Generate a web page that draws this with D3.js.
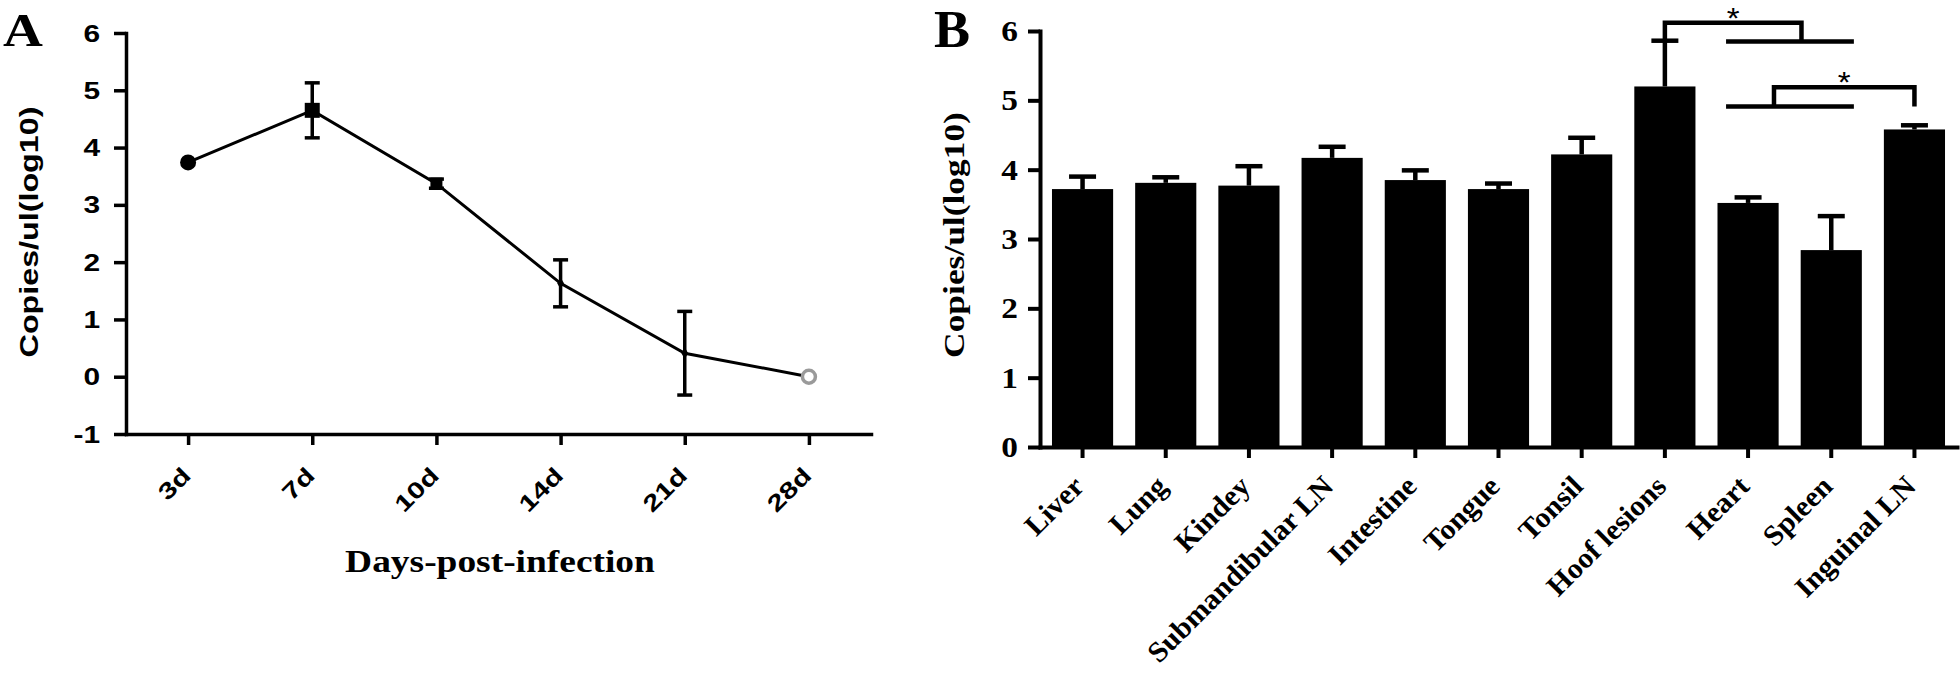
<!DOCTYPE html>
<html>
<head>
<meta charset="utf-8">
<script src="https://cdn.jsdelivr.net/npm/d3@7"></script>
<style>
  html, body { margin: 0; padding: 0; background: #fff; }
  svg { display: block; }
</style>
</head>
<body>
<script>
// ---------------- DATA ----------------
// Panel A: viral load over time
const days = ["3d", "7d", "10d", "14d", "21d", "28d"];
const meanA = [3.74, 4.65, 3.37, 1.63, 0.41, 0];
const errA  = [0, 0.48, 0.08, 0.41, 0.73, 0];
const yTicksA = [-1, 0, 1, 2, 3, 4, 5, 6];

// Panel B: tissue distribution
const organs = ["Liver", "Lung", "Kindey", "Submandibular LN", "Intestine", "Tongue",
                "Tonsil", "Hoof lesions", "Heart", "Spleen", "Inguinal LN"];
const meanB = [3.72, 3.81, 3.77, 4.17, 3.85, 3.72, 4.22, 5.20, 3.52, 2.84, 4.58];
const errB  = [0.18, 0.08, 0.28, 0.16, 0.14, 0.08, 0.24, 0.66, 0.08, 0.49, 0.06];
const yTicksB = [0, 1, 2, 3, 4, 5, 6];

// Significance annotations (panel B)
const sigOrgan   = ["Hoof lesions", "Inguinal LN"];
const sigGroup   = ["Heart", "Spleen"];
const sigTop     = [6.12, 5.19];
const sigBase    = [5.85, 4.91];
const sigLabel   = ["*", "*"];

// ---------------- DRAW ----------------
const W = 1960, H = 673;
const svg = d3.select("body").append("svg").attr("width", W).attr("height", H);

const SANS = "'Liberation Sans', Arial, sans-serif";
const SERIF = "'Liberation Serif', 'Times New Roman', serif";

function label(g, x, y, str, o) {
  return g.append("text")
    .attr("transform", `translate(${x},${y}) rotate(${o.rotate || 0}) scale(${o.sx || 1},1)`)
    .attr("text-anchor", o.anchor || "start")
    .attr("font-family", o.family)
    .attr("font-weight", o.weight || "bold")
    .attr("font-size", o.size)
    .attr("fill", o.fill || "#000")
    .text(str);
}

// ===== Panel A =====
const gA = svg.append("g");
const xA = d3.scalePoint().domain(days).range([126, 871]).padding(0.5);
const yA = d3.scaleLinear().domain([-1, 6]).range([434, 33]);

// axes
const axA_y = gA.append("g").attr("transform", "translate(126,0)")
  .call(d3.axisLeft(yA).tickValues(yTicksA).tickSize(12).tickSizeOuter(0).tickFormat(""));
const axA_x = gA.append("g").attr("transform", "translate(0,434)")
  .call(d3.axisBottom(xA).tickSize(11).tickSizeOuter(0).tickFormat(""));
[axA_y, axA_x].forEach(a => {
  a.selectAll("path.domain").attr("stroke", "#000").attr("stroke-width", 3.5).attr("stroke-linecap", "square");
  a.selectAll(".tick line").attr("stroke", "#000").attr("stroke-width", 3.5);
});

// y tick labels
yTicksA.forEach(v => {
  label(gA, 100, yA(v) + 8.5, String(v), {family: SANS, size: 23, anchor: "end", sx: 1.3});
});
// x tick labels
days.forEach(d => {
  label(gA, xA(d) + 4, 477, d, {family: SANS, size: 23, anchor: "end", rotate: -45, sx: 1.3});
});
// axis titles
label(gA, 38, 232, "Copies/ul(log10)", {family: SANS, size: 25, anchor: "middle", rotate: -90, sx: 1.29});
label(gA, 500, 572, "Days-post-infection", {family: SERIF, size: 32, anchor: "middle", sx: 1.17});
label(gA, 3, 46, "A", {family: SERIF, size: 46, sx: 1.2});

// line
const lineA = d3.line().x((d, i) => xA(days[i])).y(d => yA(d));
gA.append("path").datum(meanA).attr("d", lineA)
  .attr("fill", "none").attr("stroke", "#000").attr("stroke-width", 3);

// error bars
const capA = 7.5;
meanA.forEach((m, i) => {
  const e = errA[i];
  if (!e) return;
  const x = xA(days[i]);
  const eg = gA.append("g").attr("stroke", "#000").attr("stroke-width", 3.5);
  eg.append("line").attr("x1", x).attr("x2", x).attr("y1", yA(m - e)).attr("y2", yA(m + e));
  eg.append("line").attr("x1", x - capA).attr("x2", x + capA).attr("y1", yA(m + e)).attr("y2", yA(m + e));
  eg.append("line").attr("x1", x - capA).attr("x2", x + capA).attr("y1", yA(m - e)).attr("y2", yA(m - e));
});

// markers (style per time point)
const markerStyle = ["circle", "square", "square", "diamond", "diamond", "open"];
meanA.forEach((m, i) => {
  const x = xA(days[i]), y = yA(m), s = markerStyle[i];
  if (s === "circle") {
    gA.append("circle").attr("cx", x).attr("cy", y).attr("r", 8).attr("fill", "#000");
  } else if (s === "square") {
    const sz = i === 1 ? 15 : 12;
    gA.append("rect").attr("x", x - sz / 2).attr("y", y - sz / 2).attr("width", sz).attr("height", sz).attr("fill", "#000");
  } else if (s === "diamond") {
    gA.append("path").attr("d", d3.symbol(d3.symbolDiamond, 40)()).attr("transform", `translate(${x},${y})`).attr("fill", "#000");
  } else {
    gA.append("circle").attr("cx", x).attr("cy", y).attr("r", 6.5)
      .attr("fill", "#fff").attr("stroke", "#9a9a9a").attr("stroke-width", 3.5);
  }
});

// ===== Panel B =====
const gB = svg.append("g");
const xB = d3.scaleBand().domain(organs).range([1040, 1957]).paddingInner(0.265).paddingOuter(0.144);
const yB = d3.scaleLinear().domain([0, 6]).range([447, 31]);
const bw = xB.bandwidth();

// bars
gB.selectAll("rect.bar").data(organs).join("rect").attr("class", "bar")
  .attr("x", d => xB(d)).attr("width", bw)
  .attr("y", (d, i) => yB(meanB[i])).attr("height", (d, i) => yB(0) - yB(meanB[i]))
  .attr("fill", "#000");

// error bars (upper only)
const capB = 13.5;
organs.forEach((o, i) => {
  const x = xB(o) + bw / 2, top = yB(meanB[i] + errB[i]);
  const eg = gB.append("g").attr("stroke", "#000").attr("stroke-width", 4.5);
  eg.append("line").attr("x1", x).attr("x2", x).attr("y1", yB(meanB[i])).attr("y2", top);
  eg.append("line").attr("x1", x - capB).attr("x2", x + capB).attr("y1", top).attr("y2", top);
});

// axes
const axB_y = gB.append("g").attr("transform", "translate(1040,0)")
  .call(d3.axisLeft(yB).tickValues(yTicksB).tickSize(12).tickSizeOuter(0).tickFormat(""));
const axB_x = gB.append("g").attr("transform", "translate(0,447)")
  .call(d3.axisBottom(xB).tickSize(11).tickSizeOuter(0).tickFormat(""));
[axB_y, axB_x].forEach(a => {
  a.selectAll("path.domain").attr("stroke", "#000").attr("stroke-width", 4).attr("stroke-linecap", "square");
  a.selectAll(".tick line").attr("stroke", "#000").attr("stroke-width", 4);
});

yTicksB.forEach(v => {
  label(gB, 1018, yB(v) + 10, String(v), {family: SERIF, size: 29, anchor: "end", sx: 1.15});
});
organs.forEach(o => {
  label(gB, xB(o) + bw / 2 + 3, 488, o, {family: SERIF, size: 29, anchor: "end", rotate: -45, sx: 1.03});
});
label(gB, 964, 235, "Copies/ul(log10)", {family: SERIF, size: 30, anchor: "middle", rotate: -90, sx: 1.18});
label(gB, 934, 47, "B", {family: SERIF, size: 52, sx: 1.04});

// significance brackets
const gx0 = xB(sigGroup[0]) + bw * 0.14;
const gx1 = xB(sigGroup[sigGroup.length - 1]) + bw * 0.87;
const attach = [0.59, 0.375];
sigOrgan.forEach((o, k) => {
  const ox = xB(o) + bw / 2;
  const gxLeg = gx0 + attach[k] * (gx1 - gx0);
  const yt = yB(sigTop[k]), yb = yB(sigBase[k]);
  const sg = gB.append("g").attr("fill", "none").attr("stroke", "#000").attr("stroke-width", 4.5)
    .attr("stroke-linecap", "butt").attr("stroke-linejoin", "miter");
  sg.append("path").attr("d", `M${ox},${yb} V${yt} H${gxLeg} V${yb}`);
  sg.append("line").attr("x1", gx0).attr("x2", gx1).attr("y1", yb).attr("y2", yb);
  label(gB, (ox + gxLeg) / 2, yt + 5, sigLabel[k], {family: SANS, weight: "normal", size: 30, anchor: "middle", sx: 1.1});
});
</script>
</body>
</html>
